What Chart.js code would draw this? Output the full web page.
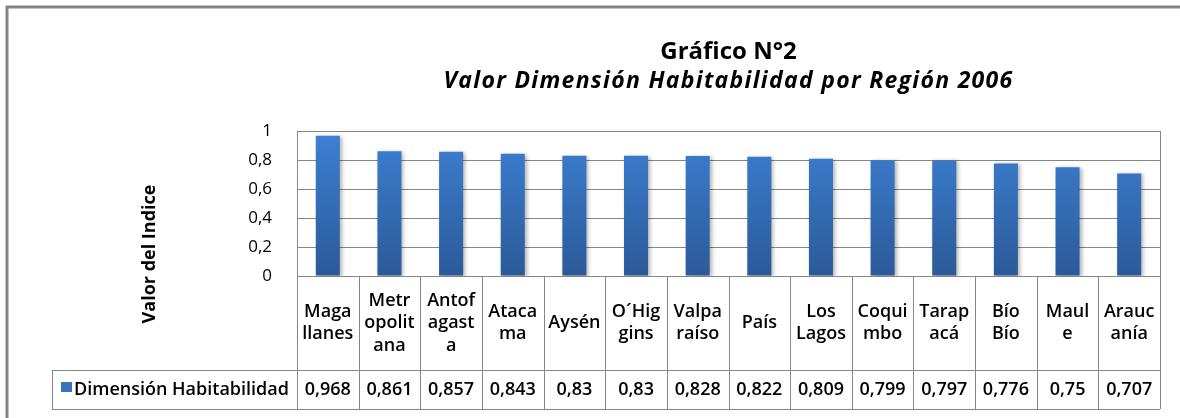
<!DOCTYPE html>
<html>
<head>
<meta charset="utf-8">
<script src="https://cdn.jsdelivr.net/npm/chart.js@4"></script>
<style>
  body { margin: 0; background: #fff; }
  #wrap { width: 1180px; height: 418px; position: relative; }
</style>
</head>
<body>
<div id="wrap"><canvas id="myChart"></canvas></div>
<script>
const categories = [
  ["Maga", "llanes"], ["Metr", "opolit", "ana"], ["Antof", "agast", "a"], ["Ataca", "ma"],
  ["Aysén"], ["O´Hig", "gins"], ["Valpa", "raíso"], ["País"], ["Los", "Lagos"],
  ["Coqui", "mbo"], ["Tarap", "acá"], ["Bío", "Bío"], ["Maul", "e"], ["Arauc", "anía"]
]
const valores = [0.968, 0.861, 0.857, 0.843, 0.83, 0.83, 0.828, 0.822, 0.809, 0.799, 0.797, 0.776, 0.75, 0.707]
const valoresTexto = ["0,968", "0,861", "0,857", "0,843", "0,83", "0,83", "0,828", "0,822", "0,809", "0,799", "0,797", "0,776", "0,75", "0,707"]
const serieNombre = "Dimensión Habitabilidad"
const yTicks = [0, 0.2, 0.4, 0.6, 0.8, 1]

const FONT = "'Open Sans', sans-serif"
const GRAY = "#868686"

// tabla de datos y titulos dibujados a mano debajo del grafico
const tablaPlugin = {
  id: "tabla",
  afterDraw(chart) {
    const ctx = chart.ctx
    const area = chart.chartArea
    const x = chart.scales.x
    const n = categories.length
    const colW = (area.right - area.left) / n
    const rowMid = area.bottom + 94
    const rowBot = rowMid + 39
    const legL = 52

    ctx.save()
    ctx.strokeStyle = GRAY
    ctx.lineWidth = 1
    ctx.beginPath()
    // lineas horizontales
    ctx.moveTo(area.left, area.bottom + 0.5); ctx.lineTo(area.right, area.bottom + 0.5)
    ctx.moveTo(legL, rowMid + 0.5); ctx.lineTo(area.right, rowMid + 0.5)
    ctx.moveTo(legL, rowBot + 0.5); ctx.lineTo(area.right, rowBot + 0.5)
    // bordes
    ctx.moveTo(area.right + 0.5, area.top); ctx.lineTo(area.right + 0.5, rowBot)
    ctx.moveTo(area.left + 0.5, area.top); ctx.lineTo(area.left + 0.5, rowBot)
    ctx.moveTo(legL + 0.5, rowMid); ctx.lineTo(legL + 0.5, rowBot)
    for (let i = 1; i < n; i++) {
      const bx = Math.round(area.left + i * colW) + 0.5
      ctx.moveTo(bx, area.bottom); ctx.lineTo(bx, rowBot)
    }
    ctx.stroke()

    ctx.fillStyle = "#000"
    ctx.textAlign = "center"
    ctx.textBaseline = "middle"
    ctx.font = "600 18px " + FONT
    categories.forEach((lineas, i) => {
      const cx = x.getPixelForValue(i)
      const cy = area.bottom + 47
      const lh = 22.5
      lineas.forEach((t, j) => {
        ctx.fillText(t, cx, cy + (j - (lineas.length - 1) / 2) * lh)
      })
      ctx.fillText(valoresTexto[i], cx, rowMid + 20)
    })

    // leyenda
    ctx.fillStyle = "#3a73bd"
    ctx.fillRect(61, rowMid + 12, 11, 10)
    ctx.fillStyle = "#000"
    ctx.textAlign = "left"
    ctx.fillText(serieNombre, 74, rowMid + 20)

    // titulo eje y
    ctx.save()
    ctx.translate(150, 254)
    ctx.rotate(-Math.PI / 2)
    ctx.textAlign = "center"
    ctx.font = "bold 18px " + FONT
    ctx.fillText("Valor del Indice", 0, 0)
    ctx.restore()

    // titulos
    const tc = (area.left + area.right) / 2
    ctx.textAlign = "center"
    ctx.textBaseline = "alphabetic"
    ctx.font = "bold 24px " + FONT
    ctx.fillText("Gráfico N°2", tc, 59)
    ctx.font = "italic bold 23px " + FONT
    ctx.letterSpacing = "1.3px"
    ctx.fillText("Valor Dimensión Habitabilidad por Región 2006", tc, 88)
    ctx.letterSpacing = "0px"

    // marco exterior
    ctx.strokeStyle = GRAY
    ctx.lineWidth = 3
    ctx.beginPath()
    ctx.moveTo(7, 420); ctx.lineTo(7, 7); ctx.lineTo(1185, 7)
    ctx.stroke()
    ctx.restore()
  }
}

const sombraPlugin = {
  id: "sombra",
  beforeDatasetsDraw(chart) {
    const ctx = chart.ctx
    ctx.save()
    ctx.shadowColor = "rgba(0,0,0,0.3)"
    ctx.shadowBlur = 4
    ctx.shadowOffsetX = 2
    ctx.shadowOffsetY = 1
  },
  afterDatasetsDraw(chart) {
    chart.ctx.restore()
  }
}

function degradado(context) {
  const chart = context.chart
  const area = chart.chartArea
  if (!area) return "#3a73bd"
  const g = chart.ctx.createLinearGradient(0, area.top, 0, area.bottom)
  g.addColorStop(0, "#3d80d3")
  g.addColorStop(1, "#2b5a98")
  return g
}

const chart = document.getElementById("myChart")
const myChart = new Chart(chart, {
  type: "bar",
  data: {
    labels: categories,
    datasets: [{
      label: serieNombre,
      data: valores,
      backgroundColor: degradado,
      barPercentage: 0.78,
      categoryPercentage: 0.5
    }]
  },
  options: {
    responsive: true,
    maintainAspectRatio: false,
    animation: false,
    layout: { padding: { top: 131, right: 20, bottom: 142, left: 0 } },
    plugins: {
      legend: { display: false },
      tooltip: { enabled: false }
    },
    scales: {
      x: { display: false },
      y: {
        min: 0,
        max: 1,
        afterFit: (scale) => { scale.width = 297 },
        afterBuildTicks: (scale) => { scale.ticks = yTicks.map(v => ({ value: v })) },
        ticks: {
          padding: 25,
          color: "#000",
          font: { family: FONT, size: 17 },
          callback: (v) => v === 0 || v === 1 ? String(v) : v.toFixed(1).replace(".", ",")
        },
        grid: { color: GRAY, drawTicks: false },
        border: { display: true, color: GRAY }
      }
    }
  },
  plugins: [sombraPlugin, tablaPlugin]
})
</script>
</body>
</html>
